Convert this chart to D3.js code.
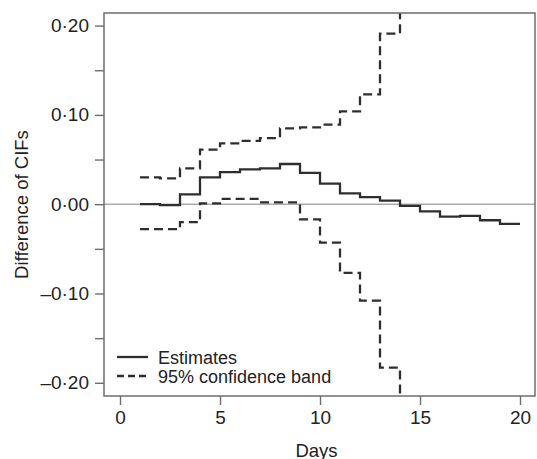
<!DOCTYPE html>
<meta charset="utf-8">
<head>
  <style>
    body {
      margin: 0;
      background: #fff;
    }
    svg {
      display: block;
    }
    .tick text, .lbl {
      font-family: 'Liberation Sans', Arial, sans-serif;
      fill: #222;
    }
  </style>
</head>
<body>

<svg id="chart" width="537" height="459"></svg>

<script src="https://d3js.org/d3.v7.min.js"></script>
<script>

  // values, one per day (step after)
  var estDays = [1, 2, 3, 4, 5, 6, 7, 8, 9, 10, 11, 12, 13, 14, 15, 16, 17, 18, 19, 20];
  var estimates = [0.000, -0.001, 0.011, 0.030, 0.036, 0.039, 0.040, 0.045, 0.035, 0.023,
                   0.012, 0.008, 0.004, -0.002, -0.008, -0.014, -0.013, -0.018, -0.022, -0.022];

  var bandDays = [1, 2, 3, 4, 5, 6, 7, 8, 9, 10, 11, 12, 13, 14];
  var upperBand = [0.030, 0.029, 0.040, 0.061, 0.068, 0.071, 0.074, 0.085, 0.086, 0.089,
                   0.104, 0.123, 0.191, 0.260];
  var lowerBand = [-0.028, -0.028, -0.020, 0.001, 0.006, 0.006, 0.002, 0.002, -0.017, -0.043,
                   -0.077, -0.108, -0.183, -0.260];

  var xTicks = [0, 5, 10, 15, 20];
  var yTicks = [-0.20, -0.15, -0.10, -0.05, 0.00, 0.05, 0.10, 0.15, 0.20];
  var yTickLabels = ["\u20130\u00b720", "", "\u20130\u00b710", "", "0\u00b700", "", "0\u00b710", "", "0\u00b720"];
  var legendLabels = ["Estimates", "95% confidence band"];

  var lineCol = "#2e2e2e";
  var boxCol = "#6e6e6e";

  // plot box edges (window.top is taken, so no "top" here)
  var pL = 104, pR = 535, pT = 13, pB = 396;

  var svg = d3.select("#chart");

  var x = d3.scaleLinear().domain([-0.8, 20.75]).range([pL, pR]);
  var y = d3.scaleLinear().domain([-0.2148, 0.2141]).range([pB, pT]);

  svg.append("defs").append("clipPath").attr("id", "plotclip")
     .append("rect")
     .attr("x", pL).attr("y", pT)
     .attr("width", pR - pL).attr("height", pB - pT);

  // zero reference line
  svg.append("line")
     .attr("x1", pL).attr("x2", pR)
     .attr("y1", y(0)).attr("y2", y(0))
     .attr("stroke", "#ababab")
     .attr("stroke-width", 1.4);

  var step = d3.line()
     .x(function (d) {return x(d[0]);})
     .y(function (d) {return y(d[1]);})
     .curve(d3.curveStepAfter);

  var plot = svg.append("g").attr("clip-path", "url(#plotclip)");

  plot.append("path")
      .attr("d", step(d3.zip(estDays, estimates)))
      .attr("fill", "none")
      .attr("stroke", lineCol)
      .attr("stroke-width", 2.3);

  [upperBand, lowerBand].forEach(function (band) {
    plot.append("path")
        .attr("d", step(d3.zip(bandDays, band)))
        .attr("fill", "none")
        .attr("stroke", lineCol)
        .attr("stroke-width", 2.3)
        .attr("stroke-dasharray", "9,5");
  });

  // box
  svg.append("rect")
     .attr("x", pL).attr("y", pT)
     .attr("width", pR - pL).attr("height", pB - pT)
     .attr("fill", "none")
     .attr("stroke", boxCol)
     .attr("stroke-width", 1.5);

  var yAxis = d3.axisLeft(y)
     .tickValues(yTicks)
     .tickSize(9)
     .tickPadding(6)
     .tickFormat(function (d, i) {return yTickLabels[i];});

  var xAxis = d3.axisBottom(x)
     .tickValues(xTicks)
     .tickSize(9)
     .tickPadding(6)
     .tickFormat(d3.format("d"));

  var gy = svg.append("g").attr("transform", "translate(" + pL + ",0)").call(yAxis);
  var gx = svg.append("g").attr("transform", "translate(0," + pB + ")").call(xAxis);

  [gy, gx].forEach(function (g) {
    g.select(".domain").remove();
    g.selectAll(".tick line").attr("stroke", boxCol).attr("stroke-width", 1.4);
    g.selectAll(".tick text").style("font-size", "19px");
  });

  svg.append("text")
     .attr("class", "lbl")
     .attr("transform", "translate(28," + ((pT + pB) / 2) + ") rotate(-90)")
     .attr("text-anchor", "middle")
     .style("font-size", "18.5px")
     .text("Difference of CIFs");

  svg.append("text")
     .attr("class", "lbl")
     .attr("x", (pL + pR) / 2 - 3)
     .attr("y", 457)
     .attr("text-anchor", "middle")
     .style("font-size", "18.5px")
     .text("Days");

  // legend
  var lg = svg.append("g");
  legendLabels.forEach(function (lbl, i) {
    var ly = 357 + i * 19;
    lg.append("line")
      .attr("x1", 117).attr("x2", 148)
      .attr("y1", ly).attr("y2", ly)
      .attr("stroke", lineCol)
      .attr("stroke-width", 2.3)
      .attr("stroke-dasharray", i == 1 ? "7,4" : null);
    lg.append("text")
      .attr("class", "lbl")
      .attr("x", 158)
      .attr("y", ly + 7)
      .style("font-size", "18px")
      .text(lbl);
  });

</script>
</body>
